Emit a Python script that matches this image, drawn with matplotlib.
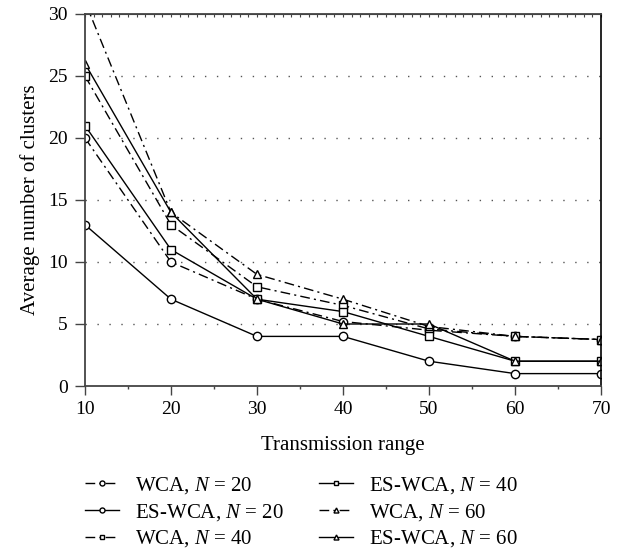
import numpy as np
import matplotlib
matplotlib.use("Agg")
import matplotlib.pyplot as plt
from matplotlib.ticker import MultipleLocator

plt.rcParams['font.family'] = ['Liberation Serif', 'DejaVu Serif']
plt.rcParams['mathtext.fontset'] = 'custom'
plt.rcParams['mathtext.rm'] = 'Liberation Serif'
plt.rcParams['mathtext.it'] = 'Liberation Serif:italic'

x = [10, 20, 30, 40, 50, 60, 70]

wca_20 = [20, 10, 7, 5.2, 4.5, 4, 3.75]
es_wca_20 = [13, 7, 4, 4, 2, 1, 1]
wca_40 = [25, 13, 8, 6.5, 4.6, 4, 3.75]
es_wca_40 = [21, 11, 7, 6, 4, 2, 2]
wca_60 = [31, 14, 9, 7, 4.8, 4, 3.75]
es_wca_60 = [26, 14, 7, 5, 5, 2, 2]

labels = ["WCA, $N$ = 20", "ES-WCA, $N$ = 20", "WCA, $N$ = 40",
          "ES-WCA, $N$ = 40", "WCA, $N$ = 60", "ES-WCA, $N$ = 60"]

series = [wca_20, es_wca_20, wca_40, es_wca_40, wca_60, es_wca_60]
markers = ["o", "o", "s", "s", "^", "^"]
dashdot = (0, (7, 3, 1.5, 3))
styles = [dashdot, "-", dashdot, "-", dashdot, "-"]

fig = plt.figure(figsize=(6.23, 5.55), dpi=100)
ax = fig.add_axes([0.1364, 0.3045, 0.8283, 0.6703])

for ys, m, ls, lab in zip(series, markers, styles, labels):
    ax.plot(x, ys, linestyle=ls, color="black", linewidth=1.0,
            marker=m, markersize=6, markerfacecolor="white",
            markeredgecolor="black", markeredgewidth=1.0, label=lab)

ax.set_xlim(10, 70)
ax.set_ylim(0, 30)
ax.xaxis.set_major_locator(MultipleLocator(10))
ax.xaxis.set_minor_locator(MultipleLocator(5))
ax.yaxis.set_major_locator(MultipleLocator(5))

for v in [5, 10, 15, 20, 25]:
    ax.axhline(v, color="#555555", linewidth=1.0, linestyle=(0, (1, 7.6)), zorder=0)

for side in ["left", "bottom", "top"]:
    ax.spines[side].set_color("#444444")
    ax.spines[side].set_linewidth(1.3)
ax.spines["right"].set_color("black")
ax.spines["right"].set_linewidth(1.2)

ax.tick_params(axis="y", which="major", direction="out", length=7.5,
               width=1.0, color="#444444", labelsize=14, pad=5)
ax.tick_params(axis="x", which="major", direction="out", length=6.5,
               width=1.0, color="#444444", labelsize=14, pad=4)
ax.tick_params(axis="x", which="minor", direction="out", length=2.5,
               width=1.0, color="#444444")

top = ax.secondary_xaxis("top")
top.xaxis.set_major_locator(MultipleLocator(1))
top.tick_params(direction="in", length=2, width=0.8, color="#444444",
                labeltop=False)
top.spines["top"].set_color("#444444")

ax.set_xlabel("Transmission range", fontsize=15, labelpad=13)
ax.set_ylabel("Average number of clusters", fontsize=15, labelpad=6)

fig.legend(*ax.get_legend_handles_labels(), loc="upper left",
           bbox_to_anchor=(85 / 623, 1 - 475 / 555), ncol=2,
           frameon=False, fontsize=15, handlelength=1.65, handletextpad=0.75,
           columnspacing=1.7, labelspacing=0.28, markerscale=0.6,
           borderpad=0, borderaxespad=0)

fig.savefig("out.png", dpi=100)
